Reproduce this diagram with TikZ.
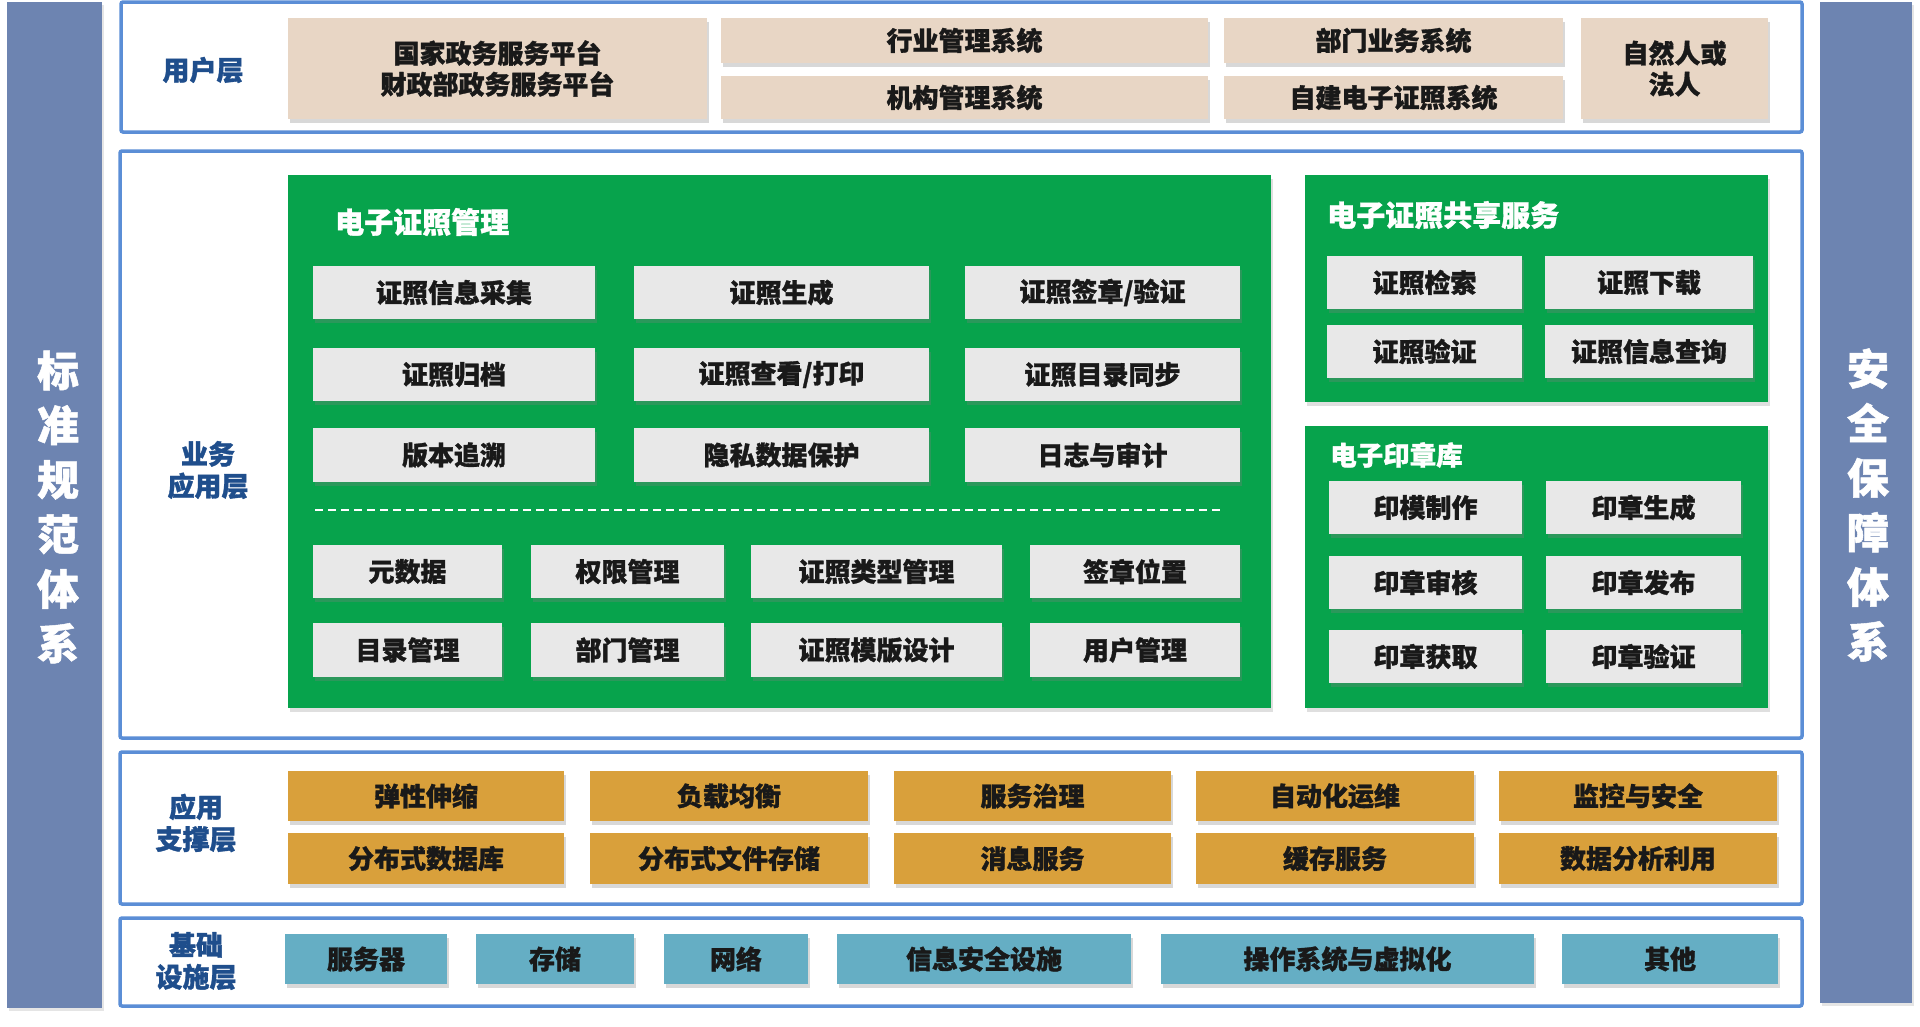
\documentclass[tikz,border=0pt]{standalone}
\usepackage{fontspec}
\setmainfont{Noto Sans CJK SC}[BoldFeatures={FakeBold=1.2}]
\usetikzlibrary{shadows}

\definecolor{barblue}{HTML}{6D84B1}
\definecolor{frameblue}{HTML}{5B8ED6}
\definecolor{labelblue}{HTML}{1F4E8C}
\definecolor{licgreen}{HTML}{07A34C}
\definecolor{cellgray}{HTML}{E8E8E8}
\definecolor{usertan}{HTML}{E8D6C5}
\definecolor{supportorange}{HTML}{D9A03B}
\definecolor{infrateal}{HTML}{65AEC4}

\tikzstyle{sidebar}=[rectangle, inner sep=0, fill=barblue, drop shadow={shadow xshift=2pt, shadow yshift=-3pt, opacity=0.2}]
\tikzstyle{sidetext}=[inner sep=0, text=white, font=\fontsize{42}{54.6}\selectfont\bfseries, align=center]
\tikzstyle{layer}=[rectangle, inner sep=0, draw=frameblue, line width=3.5pt, rounded corners=2pt]
\tikzstyle{layername}=[inner sep=0, text=labelblue, font=\fontsize{27}{32}\selectfont\bfseries, align=center]
\tikzstyle{cell}=[rectangle, inner sep=0, text=black!90, font=\fontsize{26}{31}\selectfont\bfseries, align=center, drop shadow={shadow xshift=1.5pt, shadow yshift=-4pt, opacity=0.3}]
\tikzstyle{usercell}=[cell, fill=usertan]
\tikzstyle{graycell}=[cell, fill=cellgray, minimum height=53pt]
\tikzstyle{supportcell}=[cell, fill=supportorange, minimum height=50pt]
\tikzstyle{infracell}=[cell, fill=infrateal, minimum height=50pt]
\tikzstyle{panel}=[rectangle, inner sep=0, fill=licgreen, drop shadow={shadow xshift=1.5pt, shadow yshift=-4pt, opacity=0.25}]
\tikzstyle{paneltitle}=[anchor=west, inner sep=0, text=white, font=\fontsize{29}{34}\selectfont\bfseries]
\tikzstyle{divider}=[white, line width=1.5pt, dash pattern=on 8pt off 5pt]

\begin{document}
\begin{tikzpicture}[x=1pt, y=-1pt]

\useasboundingbox (0, 0) rectangle (1920, 1026);
\fill [white] (0, 0) rectangle (1920, 1026);

% side columns
\node [sidebar, minimum width=95pt, minimum height=1006pt] (standards) at (54.5, 505) {};
\node [sidebar, minimum width=92pt, minimum height=1001pt] (security) at (1866, 502.5) {};
\node [sidetext] (standardstext) at (58, 507) {标\\准\\规\\范\\体\\系};
\node [sidetext] (securitytext) at (1868, 505) {安\\全\\保\\障\\体\\系};

% layer frames
\node [layer, minimum width=1681pt, minimum height=130pt] (userlayer) at (961.5, 67) {};
\node [layer, minimum width=1682pt, minimum height=587pt] (bizlayer) at (961, 444.5) {};
\node [layer, minimum width=1682pt, minimum height=152pt] (supportlayer) at (961, 828) {};
\node [layer, minimum width=1682pt, minimum height=88pt] (infralayer) at (961, 962) {};

\node [layername] (userlabel) at (203, 70) {用户层};
\node [layername] (bizlabel) at (208, 470) {业务\\应用层};
\node [layername] (supportlabel) at (196, 823) {应用\\支撑层};
\node [layername] (infralabel) at (196, 961) {基础\\设施层};

% user layer
\node [usercell, minimum width=419pt, minimum height=101pt] (portal) at (497.5, 68.5) {国家政务服务平台\\财政部政务服务平台};
\node [usercell, minimum width=487pt, minimum height=45pt] (industry) at (964.5, 40.5) {行业管理系统};
\node [usercell, minimum width=487pt, minimum height=43pt] (agency) at (964.5, 97.5) {机构管理系统};
\node [usercell, minimum width=339pt, minimum height=45pt] (dept) at (1393.5, 40.5) {部门业务系统};
\node [usercell, minimum width=339pt, minimum height=43pt] (selfbuilt) at (1393.5, 97.5) {自建电子证照系统};
\node [usercell, minimum width=187pt, minimum height=101pt] (person) at (1674.5, 68.5) {自然人或\\法人};

% business layer panels
\node [panel, minimum width=983pt, minimum height=533pt] (licmgmt) at (779.5, 441.5) {};
\node [panel, minimum width=463pt, minimum height=227pt] (sharing) at (1536.5, 288.5) {};
\node [panel, minimum width=463pt, minimum height=282pt] (sealstore) at (1536.5, 567) {};

\node [paneltitle] (licmgmttitle) at (335, 222) {电子证照管理};
\node [paneltitle] (sharingtitle) at (1327, 215) {电子证照共享服务};
\node [paneltitle, font=\fontsize{26.5}{31}\selectfont\bfseries] (sealtitle) at (1330, 455) {电子印章库};

\node [graycell, minimum width=282pt] (collect) at (454, 292.5) {证照信息采集};
\node [graycell, minimum width=295pt] (generate) at (781.5, 292.5) {证照生成};
\node [graycell, minimum width=275pt] (sign) at (1102.5, 292.5) {证照签章/验证};
\node [graycell, minimum width=282pt] (archive) at (454, 374.5) {证照归档};
\node [graycell, minimum width=295pt] (view) at (781.5, 374.5) {证照查看/打印};
\node [graycell, minimum width=275pt] (catsync) at (1102.5, 374.5) {证照目录同步};
\node [graycell, minimum width=282pt, minimum height=54pt] (version) at (454, 455) {版本追溯};
\node [graycell, minimum width=295pt, minimum height=54pt] (privacy) at (781.5, 455) {隐私数据保护};
\node [graycell, minimum width=275pt, minimum height=54pt] (audit) at (1102.5, 455) {日志与审计};

\coordinate (dashstart) at (315, 510);
\coordinate (dashend) at (1223, 510);
\draw [divider] (dashstart) -- (dashend);

\node [graycell, minimum width=189pt] (metadata) at (407.5, 571.5) {元数据};
\node [graycell, minimum width=193pt] (permission) at (627.5, 571.5) {权限管理};
\node [graycell, minimum width=251pt] (lictype) at (876.5, 571.5) {证照类型管理};
\node [graycell, minimum width=210pt] (signpos) at (1135, 571.5) {签章位置};
\node [graycell, minimum width=189pt, minimum height=54pt] (catalog) at (407.5, 650) {目录管理};
\node [graycell, minimum width=193pt, minimum height=54pt] (deptmgmt) at (627.5, 650) {部门管理};
\node [graycell, minimum width=251pt, minimum height=54pt] (template) at (876.5, 650) {证照模版设计};
\node [graycell, minimum width=210pt, minimum height=54pt] (usermgmt) at (1135, 650) {用户管理};

\node [graycell, minimum width=195pt] (search) at (1424.5, 282.5) {证照检索};
\node [graycell, minimum width=208pt] (download) at (1649, 282.5) {证照下载};
\node [graycell, minimum width=195pt] (verify) at (1424.5, 351.5) {证照验证};
\node [graycell, minimum width=208pt] (query) at (1649, 351.5) {证照信息查询};

\node [graycell, minimum width=193pt] (mould) at (1425.5, 507.5) {印模制作};
\node [graycell, minimum width=195pt] (sealgen) at (1643.5, 507.5) {印章生成};
\node [graycell, minimum width=193pt] (sealcheck) at (1425.5, 582.5) {印章审核};
\node [graycell, minimum width=195pt] (sealpub) at (1643.5, 582.5) {印章发布};
\node [graycell, minimum width=193pt] (sealget) at (1425.5, 656.5) {印章获取};
\node [graycell, minimum width=195pt] (sealverify) at (1643.5, 656.5) {印章验证};

% support layer
\node [supportcell, minimum width=276pt] (elastic) at (426, 796) {弹性伸缩};
\node [supportcell, minimum width=278pt] (balance) at (729, 796) {负载均衡};
\node [supportcell, minimum width=277pt] (governance) at (1032.5, 796) {服务治理};
\node [supportcell, minimum width=278pt] (devops) at (1335, 796) {自动化运维};
\node [supportcell, minimum width=278pt] (monitor) at (1638, 796) {监控与安全};
\node [supportcell, minimum width=276pt, minimum height=51pt] (distdb) at (426, 858.5) {分布式数据库};
\node [supportcell, minimum width=278pt, minimum height=51pt] (distfs) at (729, 858.5) {分布式文件存储};
\node [supportcell, minimum width=277pt, minimum height=51pt] (message) at (1032.5, 858.5) {消息服务};
\node [supportcell, minimum width=278pt, minimum height=51pt] (cache) at (1335, 858.5) {缓存服务};
\node [supportcell, minimum width=278pt, minimum height=51pt] (analytics) at (1638, 858.5) {数据分析利用};

% infrastructure layer
\node [infracell, minimum width=162pt] (server) at (366, 959) {服务器};
\node [infracell, minimum width=158pt] (storage) at (555, 959) {存储};
\node [infracell, minimum width=144pt] (network) at (736, 959) {网络};
\node [infracell, minimum width=294pt] (infosec) at (984, 959) {信息安全设施};
\node [infracell, minimum width=373pt] (osvirt) at (1347.5, 959) {操作系统与虚拟化};
\node [infracell, minimum width=216pt] (others) at (1670, 959) {其他};

\end{tikzpicture}
\end{document}
